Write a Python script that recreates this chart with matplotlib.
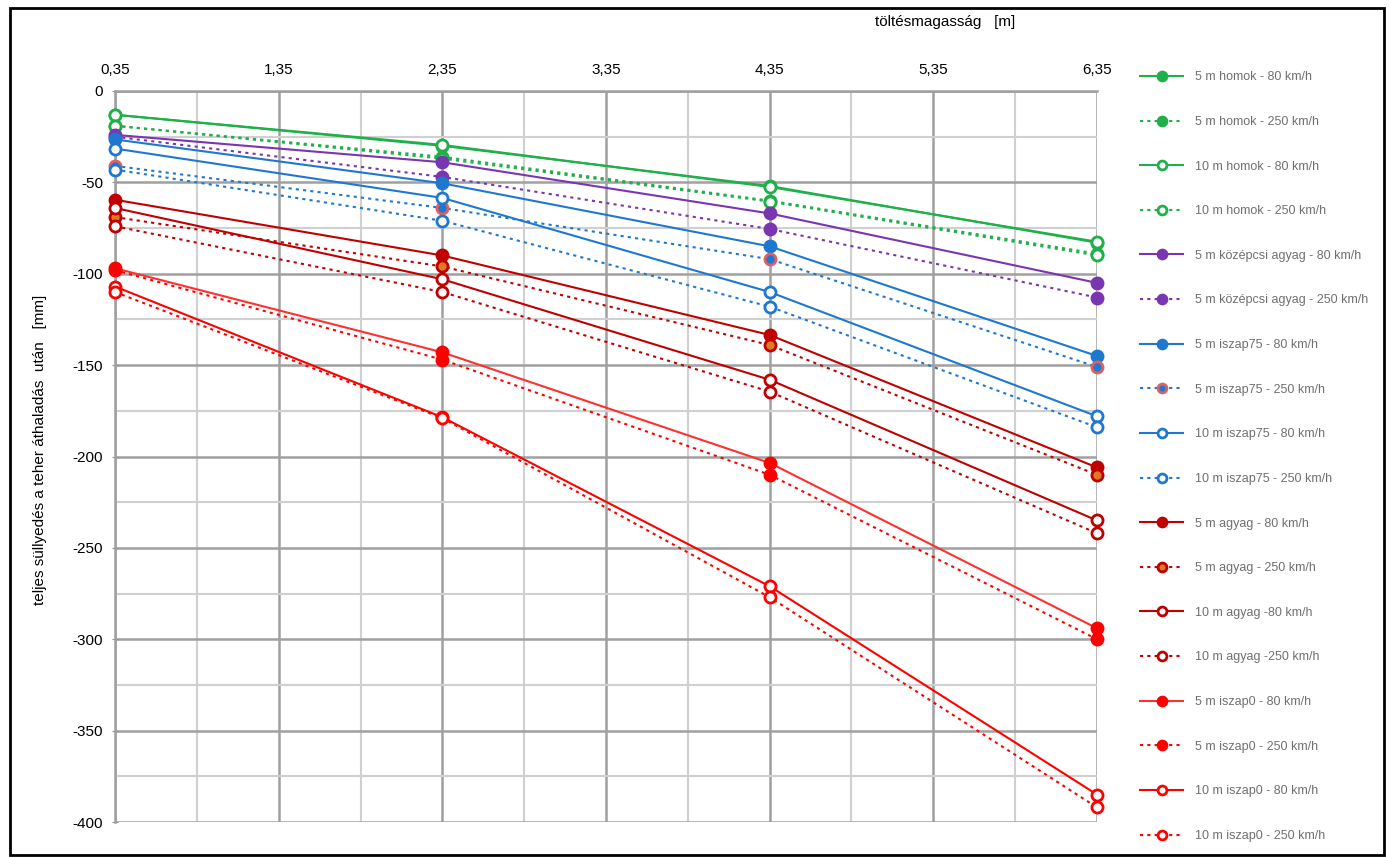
import numpy as np
import matplotlib.pyplot as plt
from matplotlib.patches import Rectangle
from matplotlib.ticker import MultipleLocator, FuncFormatter

plt.rcParams['font.family'] = ['Liberation Sans', 'DejaVu Sans']
plt.rcParams['axes.unicode_minus'] = False

# töltésmagasság [m]
heights = [0.35, 2.35, 4.35, 6.35]

labels = [
    "5 m homok - 80 km/h", "5 m homok - 250 km/h",
    "10 m homok - 80 km/h", "10 m homok - 250 km/h",
    "5 m középcsi agyag - 80 km/h", "5 m középcsi agyag - 250 km/h",
    "5 m iszap75 - 80 km/h", "5 m iszap75 - 250 km/h",
    "10 m iszap75 - 80 km/h", "10 m iszap75 - 250 km/h",
    "5 m agyag - 80 km/h", "5 m agyag - 250 km/h",
    "10 m agyag -80 km/h", "10 m agyag -250 km/h",
    "5 m iszap0 - 80 km/h", "5 m iszap0 - 250 km/h",
    "10 m iszap0 - 80 km/h", "10 m iszap0 - 250 km/h",
]

# süllyedés [mm]
homok5_80 = [-13, -30, -52, -83]
homok5_250 = [-19, -36, -60, -89]
homok10_80 = [-13, -29.5, -52.5, -82.5]
homok10_250 = [-19, -37, -60.5, -90]
kozep5_80 = [-24, -39, -67, -105]
kozep5_250 = [-25, -47, -75.5, -113]
iszap75_5_80 = [-26.5, -50.5, -85, -145]
iszap75_5_250 = [-41, -64, -92, -151]
iszap75_10_80 = [-31.5, -58.5, -110, -178]
iszap75_10_250 = [-43, -71, -118, -184]
agyag5_80 = [-59.5, -90, -133.5, -206]
agyag5_250 = [-69, -96, -139, -210]
agyag10_80 = [-64, -103, -158, -235]
agyag10_250 = [-74, -110, -164.5, -242]
iszap0_5_80 = [-97, -143, -203.5, -294]
iszap0_5_250 = [-98, -147, -210, -300]
iszap0_10_80 = [-107, -178.5, -271, -385]
iszap0_10_250 = [-110, -179, -277, -392]

series = [homok5_80, homok5_250, homok10_80, homok10_250,
          kozep5_80, kozep5_250,
          iszap75_5_80, iszap75_5_250, iszap75_10_80, iszap75_10_250,
          agyag5_80, agyag5_250, agyag10_80, agyag10_250,
          iszap0_5_80, iszap0_5_250, iszap0_10_80, iszap0_10_250]

GREEN = '#1fb04a'
PURPLE = '#7a35b0'
BLUE = '#1f78d0'
DRED = '#c00000'
RED = '#ff0000'

# (line colour, dotted?, marker face, marker edge)
styles = [
    (GREEN, False, GREEN, GREEN), (GREEN, True, GREEN, GREEN),
    (GREEN, False, 'white', GREEN), (GREEN, True, 'white', GREEN),
    (PURPLE, False, PURPLE, PURPLE), (PURPLE, True, PURPLE, PURPLE),
    (BLUE, False, BLUE, BLUE), (BLUE, True, BLUE, '#e06060'),
    (BLUE, False, 'white', BLUE), (BLUE, True, 'white', BLUE),
    (DRED, False, DRED, DRED), (DRED, True, '#e07a20', DRED),
    (DRED, False, 'white', DRED), (DRED, True, 'white', DRED),
    ('#ff3030', False, RED, RED), (RED, True, RED, RED),
    (RED, False, 'white', RED), (RED, True, 'white', RED),
]

fig = plt.figure(figsize=(13.9, 8.57), dpi=100)
ax = fig.add_axes([115 / 1390, 1 - 822 / 857, (1097 - 115) / 1390, (822 - 91) / 857])

for vals, lab, (col, dotted, face, edge) in zip(series, labels, styles):
    ax.plot(heights, vals, color=col, lw=1.5,
            linestyle=(0, (1.5, 2)) if dotted else '-',
            marker='o', markersize=8, markerfacecolor=face,
            markeredgecolor=edge, markeredgewidth=2, label=lab,
            clip_on=False, zorder=3)

ax.set_xlim(0.35, 6.35)
ax.set_ylim(-400, 0)
ax.set_xticks(np.arange(0.35, 6.36, 1.0))
ax.set_xticks(np.arange(0.85, 6.36, 1.0), minor=True)
ax.yaxis.set_major_locator(MultipleLocator(50))
ax.yaxis.set_minor_locator(MultipleLocator(25))
ax.xaxis.set_major_formatter(FuncFormatter(lambda v, p: f"{v:.2f}".replace('.', ',')))
ax.xaxis.tick_top()
ax.tick_params(axis='x', which='both', length=0, labelsize=11, pad=10)
ax.tick_params(axis='y', which='major', length=5, direction='inout', labelsize=11,
               color='#909090', pad=6)
ax.tick_params(axis='y', which='minor', length=0)

ax.grid(which='major', color='#a0a0a0', lw=1.8)
ax.grid(which='minor', color='#d0d0d0', lw=1.5)
ax.set_axisbelow(True)
for s in ['right', 'bottom']:
    ax.spines[s].set_visible(False)
for s in ['left', 'top']:
    ax.spines[s].set_color('#a0a0a0')
    ax.spines[s].set_linewidth(1.8)

fig.text(945 / 1390, 1 - 22 / 857, "töltésmagasság   [m]", ha='center', va='center', fontsize=11)
fig.text(40 / 1390, 1 - 450 / 857, "teljes süllyedés a teher áthaladás  után   [mm]",
         ha='center', va='center', rotation=90, fontsize=11)

fig.legend(loc='upper left', bbox_to_anchor=(1129 / 1390, 1 - 60 / 857),
           frameon=False, fontsize=9, labelcolor='#707070', handlelength=3.4,
           handletextpad=1.0, labelspacing=2.61, markerscale=0.8)

fig.patches.append(Rectangle((10 / 1390, 1 - 855 / 857), 1374 / 1390, 847 / 857,
                             transform=fig.transFigure, fill=False,
                             edgecolor='black', lw=2))

fig.savefig('out.png', dpi=100)
